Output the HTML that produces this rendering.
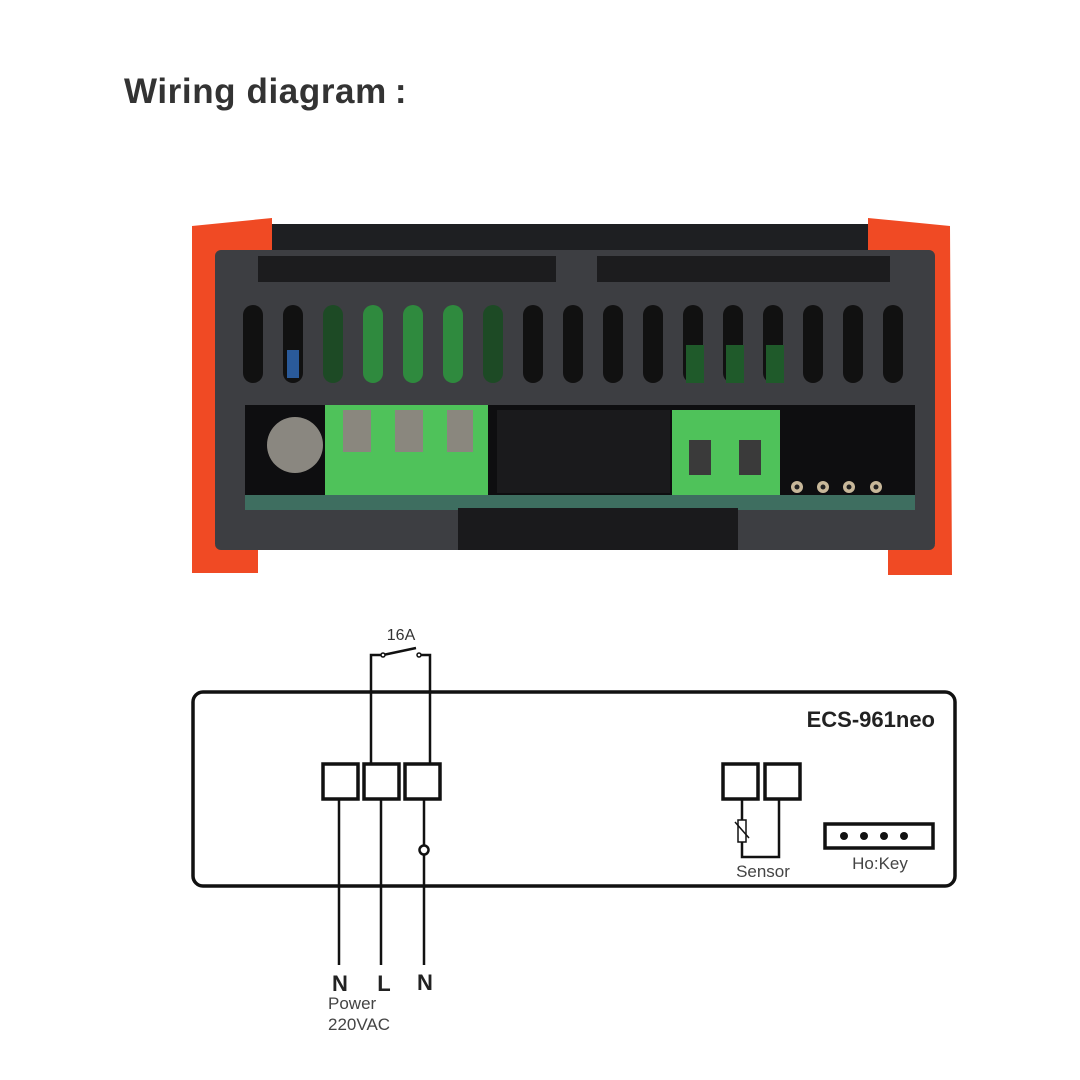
<!DOCTYPE html>
<html><head><meta charset="utf-8"><style>
html,body{margin:0;padding:0;background:#fff}
svg{display:block}
</style></head><body>
<svg width="1080" height="1080" viewBox="0 0 1080 1080" xmlns="http://www.w3.org/2000/svg" font-family="Liberation Sans, DejaVu Sans, sans-serif">
<rect width="1080" height="1080" fill="#fff"/>
<text x="124" y="103" font-size="35" font-weight="bold" fill="#333" letter-spacing="0.6">Wiring diagram<tspan dx="8">:</tspan></text>

<!-- device photo -->
<rect x="262" y="224" width="616" height="40" fill="#1e1f22"/>
<path d="M192 226 L272 218 L272 250 L215 262 L215 545 L258 545 L258 573 L192 573 Z" fill="#f04a24"/>
<path d="M868 218 L950 226 L952 575 L888 575 L888 545 L935 545 L935 262 L868 250 Z" fill="#f04a24"/>
<rect x="215" y="250" width="720" height="300" rx="6" fill="#3d3e42"/>
<rect x="258" y="256" width="298" height="26" fill="#1c1c1e"/>
<rect x="597" y="256" width="293" height="26" fill="#1c1c1e"/>
<g fill="#111">
<rect x="243" y="305" width="20" height="78" rx="10"/><rect x="283" y="305" width="20" height="78" rx="10"/>
<rect x="323" y="305" width="20" height="78" rx="10" fill="#1d4a25"/><rect x="363" y="305" width="20" height="78" rx="10" fill="#2f8a3e"/>
<rect x="403" y="305" width="20" height="78" rx="10" fill="#2f8a3e"/><rect x="443" y="305" width="20" height="78" rx="10" fill="#2f8a3e"/>
<rect x="483" y="305" width="20" height="78" rx="10" fill="#1d4a25"/><rect x="523" y="305" width="20" height="78" rx="10"/>
<rect x="563" y="305" width="20" height="78" rx="10"/><rect x="603" y="305" width="20" height="78" rx="10"/>
<rect x="643" y="305" width="20" height="78" rx="10"/><rect x="683" y="305" width="20" height="78" rx="10"/>
<rect x="723" y="305" width="20" height="78" rx="10"/><rect x="763" y="305" width="20" height="78" rx="10"/>
<rect x="803" y="305" width="20" height="78" rx="10"/><rect x="843" y="305" width="20" height="78" rx="10"/>
<rect x="883" y="305" width="20" height="78" rx="10"/>
</g>
<rect x="287" y="350" width="12" height="28" fill="#2a5a9a"/>
<rect x="686" y="345" width="18" height="38" fill="#1f5a2a"/><rect x="726" y="345" width="18" height="38" fill="#1f5a2a"/><rect x="766" y="345" width="18" height="38" fill="#1f5a2a"/>
<rect x="245" y="405" width="670" height="98" fill="#0e0e10"/>
<circle cx="295" cy="445" r="28" fill="#8a8780"/>
<rect x="245" y="495" width="670" height="15" fill="#3e6e60"/>
<rect x="325" y="405" width="163" height="90" fill="#4fc25a"/>
<rect x="343" y="410" width="28" height="42" fill="#8a877e"/><rect x="395" y="410" width="28" height="42" fill="#8a877e"/><rect x="447" y="410" width="26" height="42" fill="#8a877e"/>
<rect x="497" y="410" width="173" height="83" fill="#1a1a1c"/>
<rect x="672" y="410" width="108" height="85" fill="#4fc25a"/>
<rect x="689" y="440" width="22" height="35" fill="#3a3a3a"/><rect x="739" y="440" width="22" height="35" fill="#3a3a3a"/>
<g fill="#c8b89a"><circle cx="797" cy="487" r="6"/><circle cx="823" cy="487" r="6"/><circle cx="849" cy="487" r="6"/><circle cx="876" cy="487" r="6"/></g>
<g fill="#222"><circle cx="797" cy="487" r="2.5"/><circle cx="823" cy="487" r="2.5"/><circle cx="849" cy="487" r="2.5"/><circle cx="876" cy="487" r="2.5"/></g>
<rect x="458" y="508" width="280" height="42" fill="#1a1a1c"/>

<!-- wiring diagram -->
<g fill="none" stroke="#111" stroke-width="3.5">
<rect x="193" y="692" width="762" height="194" rx="10"/>
<rect x="323" y="764" width="35" height="35"/>
<rect x="364" y="764" width="35" height="35"/>
<rect x="405" y="764" width="35" height="35"/>
<rect x="723" y="764" width="35" height="35"/>
<rect x="765" y="764" width="35" height="35"/>
<rect x="825" y="824" width="108" height="24"/>
</g>
<g fill="none" stroke="#111" stroke-width="2.5">
<line x1="339" y1="799" x2="339" y2="965"/>
<line x1="381" y1="799" x2="381" y2="965"/>
<line x1="424" y1="799" x2="424" y2="845"/>
<line x1="424" y1="855" x2="424" y2="965"/>
<circle cx="424" cy="850" r="4.5"/>
<polyline points="371,764 371,655 381,655"/>
<polyline points="430,764 430,655 421,655"/>
<line x1="383" y1="655" x2="416" y2="648"/>
<polyline points="742,799 742,857 779,857 779,799"/>
</g>
<circle cx="383" cy="655" r="2" fill="#fff" stroke="#111" stroke-width="1.5"/>
<circle cx="419" cy="655" r="2" fill="#fff" stroke="#111" stroke-width="1.5"/>
<rect x="738" y="820" width="8" height="22" fill="#fff" stroke="#111" stroke-width="1.5"/>
<line x1="735" y1="822" x2="749" y2="838" stroke="#111" stroke-width="1.5"/>
<g fill="#111"><circle cx="844" cy="836" r="4"/><circle cx="864" cy="836" r="4"/><circle cx="884" cy="836" r="4"/><circle cx="904" cy="836" r="4"/></g>
<text x="935" y="727" font-size="22" font-weight="bold" text-anchor="end" fill="#222">ECS-961neo</text>
<text x="401" y="640" font-size="16" text-anchor="middle" fill="#333">16A</text>
<text x="763" y="877" font-size="17" text-anchor="middle" fill="#444">Sensor</text>
<text x="880" y="869" font-size="17" text-anchor="middle" fill="#444">Ho:Key</text>
<g font-size="22" font-weight="bold" fill="#222" text-anchor="middle">
<text x="340" y="991">N</text><text x="384" y="991">L</text><text x="425" y="990">N</text>
</g>
<text x="328" y="1009" font-size="17" fill="#444">Power</text>
<text x="328" y="1030" font-size="17" fill="#444">220VAC</text>
</svg>
</body></html>
